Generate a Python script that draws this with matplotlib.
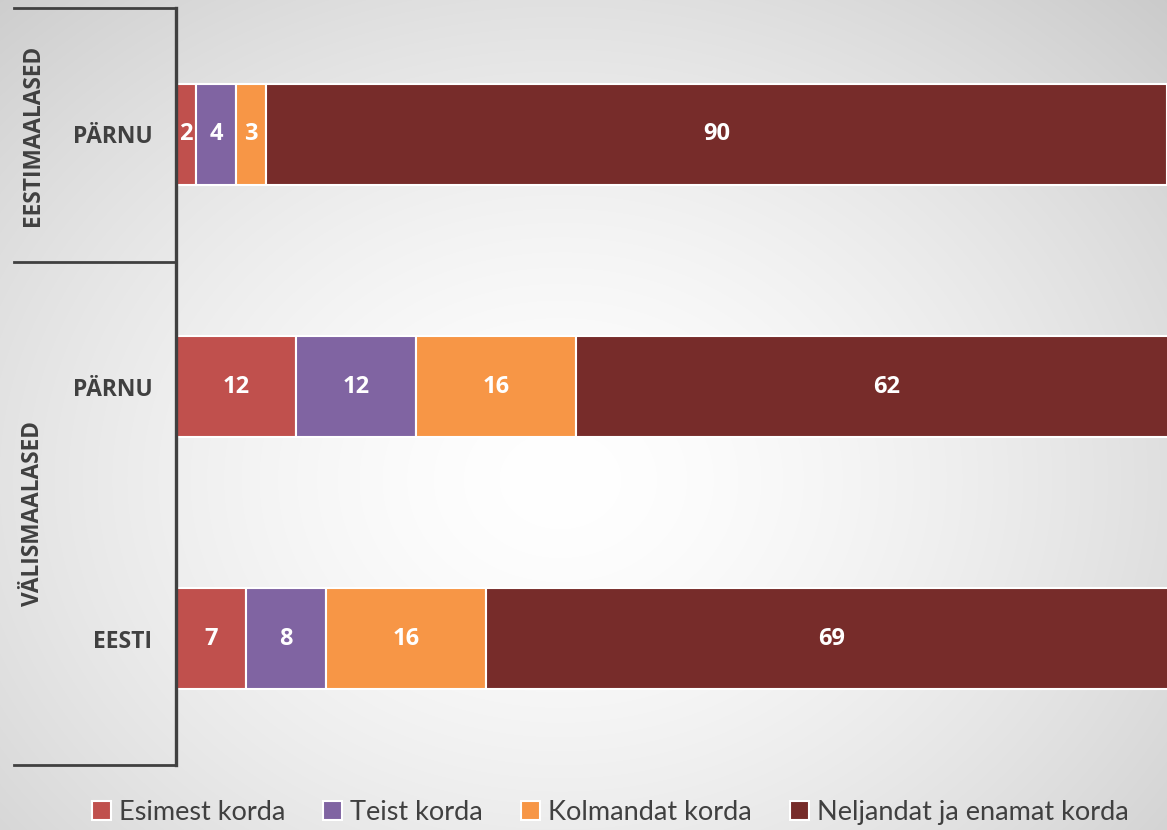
import numpy as np
import matplotlib
matplotlib.use("Agg")
import matplotlib.pyplot as plt
from matplotlib.lines import Line2D

categories = ["PÄRNU", "PÄRNU", "EESTI"]
groups = ["EESTIMAALASED", "VÄLISMAALASED"]
series_names = ["Esimest korda", "Teist korda", "Kolmandat korda", "Neljandat ja enamat korda"]
esimest = [2, 12, 7]
teist = [4, 12, 8]
kolmandat = [3, 16, 16]
neljandat = [90, 62, 69]
colors = ["#C0504D", "#8064A2", "#F79646", "#772C2A"]

W, H = 1167, 830
fig = plt.figure(figsize=(W / 100, H / 100), dpi=100)

# radial gradient background
bg = fig.add_axes([0, 0, 1, 1], zorder=-10)
yy, xx = np.mgrid[0:H, 0:W]
cx, cy = 560, 480
r = np.sqrt(((xx - cx) / 720.0) ** 2 + ((yy - cy) / 580.0) ** 2)
r = np.clip(r, 0, 1.2)
val = 1.0 - 0.21 * (r / 1.2) ** 1.5
img = np.dstack([val, val, val])
bg.imshow(img, aspect="auto", extent=[0, 1, 0, 1], origin="upper")
bg.axis("off")

ax_left = 176 / W
ax_top = 1 - 8 / H
ax_bot = 1 - 765 / H
ax = fig.add_axes([ax_left, ax_bot, 1 - ax_left, ax_top - ax_bot])
ax.patch.set_alpha(0)

FONT = "Open Sans"
data = [esimest, teist, kolmandat, neljandat]
y = np.arange(len(categories))
left = np.zeros(len(categories))
for vals, name, col in zip(data, series_names, colors):
    vals = np.array(vals, dtype=float)
    ax.barh(y, vals, left=left, height=0.4, color=col, edgecolor="white",
            linewidth=1.5, label=name)
    for yi, (l, v) in enumerate(zip(left, vals)):
        ax.text(l + v / 2, yi, f"{int(v)}", ha="center", va="center", color="white",
                fontsize=17, fontweight="bold", family=FONT)
    left += vals

ax.set_xlim(0, 99)
ax.set_ylim(2.5, -0.5)
ax.set_xticks([])
ax.set_yticks(y)
ax.set_yticklabels(categories, fontsize=16.5, fontweight="bold", color="#404040", family=FONT)
ax.tick_params(axis="y", length=0, pad=17)
for s in ["top", "right", "bottom"]:
    ax.spines[s].set_visible(False)
ax.spines["left"].set_color("#404040")
ax.spines["left"].set_linewidth(2.4)

# group separators
for ypx in [8, 262, 765]:
    yf = 1 - ypx / H
    fig.add_artist(Line2D([14 / W, ax_left], [yf, yf], color="#404040", lw=2.0,
                          transform=fig.transFigure))

fig.text(33 / W, 1 - 135 / H, groups[0], rotation=90, ha="center", va="center",
         fontsize=16.3, fontweight="bold", color="#404040", family=FONT)
fig.text(33 / W, 1 - 513 / H, groups[1], rotation=90, ha="center", va="center",
         fontsize=16.3, fontweight="bold", color="#404040", family=FONT)

handles, labels = ax.get_legend_handles_labels()
leg = fig.legend(handles, labels, loc="center", bbox_to_anchor=(0.523, 1 - 812 / H),
                 ncol=4, frameon=False, handlelength=0.7, handleheight=0.7,
                 handletextpad=0.3, columnspacing=1.4, prop={"family": "Lato", "size": 19.5})
for t in leg.get_texts():
    t.set_color("#404040")

fig.savefig("out.png", dpi=100)
